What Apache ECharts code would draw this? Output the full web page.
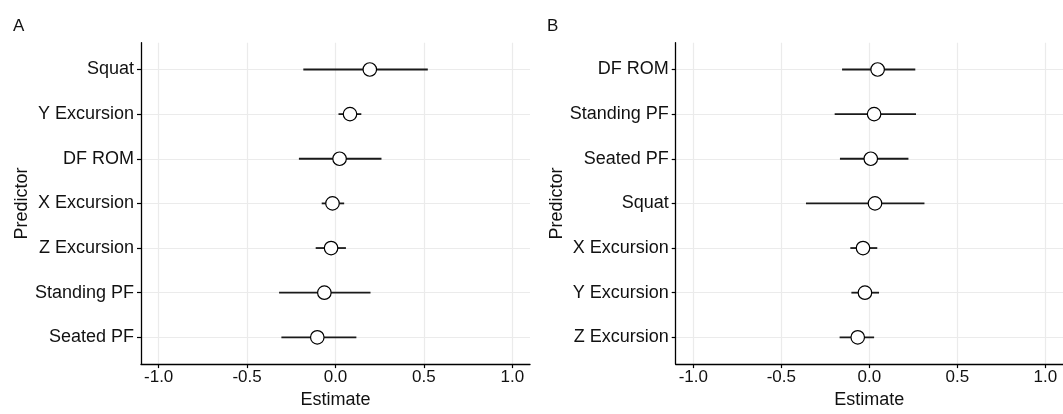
<!DOCTYPE html>
<html>
<head>
<meta charset="utf-8">
<script src="https://cdn.jsdelivr.net/npm/echarts@6/dist/echarts.min.js"></script>
<style>
html,body{margin:0;padding:0;background:#fff;}
#chart{width:1063px;height:414px;}
</style>
</head>
<body>
<div id="chart"></div>
<script>
// Panel A
const catsA = ['Squat', 'Y Excursion', 'DF ROM', 'X Excursion', 'Z Excursion', 'Standing PF', 'Seated PF'];
const estA  = [0.194, 0.082, 0.023, -0.017, -0.025, -0.063, -0.103];
const lowA  = [-0.182, 0.017, -0.207, -0.078, -0.112, -0.319, -0.306];
const highA = [0.522, 0.146, 0.260, 0.049, 0.059, 0.198, 0.118];
// Panel B
const catsB = ['DF ROM', 'Standing PF', 'Seated PF', 'Squat', 'X Excursion', 'Y Excursion', 'Z Excursion'];
const estB  = [0.047, 0.027, 0.008, 0.032, -0.036, -0.025, -0.066];
const lowB  = [-0.155, -0.197, -0.167, -0.360, -0.108, -0.102, -0.169];
const highB = [0.261, 0.265, 0.222, 0.313, 0.045, 0.055, 0.027];
// Axis ticks
const xTicks = [-1.0, -0.5, 0.0, 0.5, 1.0];
const panelLabels = ['A', 'B'];

const FONT = 'Liberation Sans, Arial, sans-serif';
const TXT = '#111';
const positions = catsA.map((_, i) => i + 1);

function xAxisCfg(gi) {
  return {
    gridIndex: gi, type: 'value', min: -1.1, max: 1.1,
    name: 'Estimate', nameLocation: 'middle', nameGap: 22,
    nameTextStyle: {fontSize: 18, color: TXT, fontFamily: FONT},
    axisLine: {show: true, onZero: false, lineStyle: {color: '#000', width: 1.3}},
    axisTick: {show: true, customValues: xTicks, length: 4, lineStyle: {color: '#000', width: 1.2}},
    axisLabel: {customValues: xTicks, formatter: v => v.toFixed(1), fontSize: 17, color: TXT, fontFamily: FONT, margin: 5},
    splitLine: {show: true, lineStyle: {color: '#ebebeb', width: 1.2}}
  };
}
function yAxisCfg(gi, cats) {
  return {
    gridIndex: gi, type: 'value', inverse: true, min: 0.4, max: 7.6,
    name: 'Predictor', nameLocation: 'middle', nameGap: 110,
    nameTextStyle: {fontSize: 18, color: TXT, fontFamily: FONT, padding: [0, 0, 0, 0]},
    axisLine: {show: true, onZero: false, lineStyle: {color: '#000', width: 1.3}},
    axisTick: {show: true, customValues: positions, length: 4, lineStyle: {color: '#000', width: 1.2}},
    axisLabel: {customValues: positions, formatter: v => cats[Math.round(v) - 1] || '', fontSize: 18, color: TXT, fontFamily: FONT, margin: 7},
    splitLine: {show: true, lineStyle: {color: '#ebebeb', width: 1.2}}
  };
}
function barSeries(gi, low, high) {
  return {
    type: 'custom', xAxisIndex: gi, yAxisIndex: gi, z: 2,
    data: low.map((l, i) => [l, high[i], i + 1]),
    encode: {x: [0, 1], y: 2},
    renderItem: function (params, api) {
      const p1 = api.coord([api.value(0), api.value(2)]);
      const p2 = api.coord([api.value(1), api.value(2)]);
      return {type: 'line', shape: {x1: p1[0], y1: p1[1], x2: p2[0], y2: p2[1]},
              style: {stroke: '#1a1a1a', lineWidth: 1.8}};
    }
  };
}
function pointSeries(gi, est) {
  return {
    type: 'scatter', xAxisIndex: gi, yAxisIndex: gi, z: 5,
    data: est.map((e, i) => [e, i + 1]),
    symbol: 'circle', symbolSize: 13.5,
    itemStyle: {color: '#fff', borderColor: '#000', borderWidth: 1.2, opacity: 1}
  };
}

const chart = echarts.init(document.getElementById('chart'), null, {renderer: 'canvas'});
chart.setOption({
  animation: false,
  backgroundColor: '#fff',
  textStyle: {fontFamily: FONT},
  title: [
    {text: panelLabels[0], left: 8, top: 13, textStyle: {fontSize: 17, fontWeight: 'normal', color: TXT, fontFamily: FONT}},
    {text: panelLabels[1], left: 542, top: 13, textStyle: {fontSize: 17, fontWeight: 'normal', color: TXT, fontFamily: FONT}}
  ],
  grid: [
    {left: 141, top: 42.7, width: 389, height: 326.6},
    {left: 675.7, top: 42.7, width: 387.6, height: 326.6}
  ],
  xAxis: [xAxisCfg(0), xAxisCfg(1)],
  yAxis: [yAxisCfg(0, catsA), yAxisCfg(1, catsB)],
  series: [
    barSeries(0, lowA, highA), pointSeries(0, estA),
    barSeries(1, lowB, highB), pointSeries(1, estB)
  ]
});
</script>
</body>
</html>
